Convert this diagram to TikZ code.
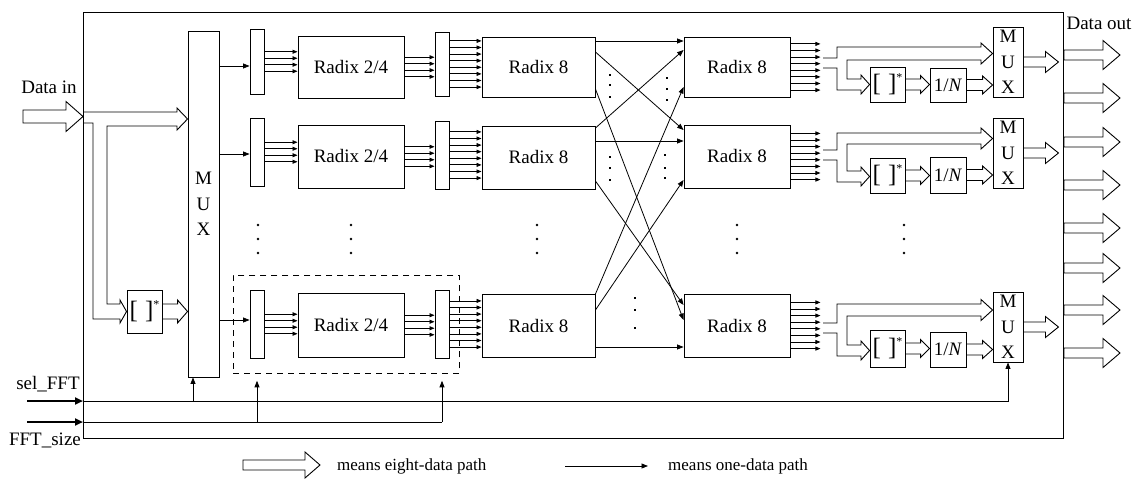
\documentclass[tikz,border=0pt]{standalone}
\usepackage{fontspec}
\setmainfont{Liberation Serif}
\usetikzlibrary{arrows.meta,calc}

\newcommand\lblfont{\fontsize{19}{22}\selectfont}
\newcommand\muxfont{\fontsize{19}{25.5}\selectfont}
\newcommand\conjlabel{{\fontsize{25}{25}\selectfont[\hspace{7pt}]}\raisebox{10pt}{\fontsize{12}{12}\selectfont *}}

\tikzset{
  ln/.style={line width=0.8pt},
  box/.style={draw, line width=0.9pt, fill=white, inner sep=0pt, font=\lblfont},
  one/.style={line width=0.8pt, -{Triangle[length=6.5pt,width=5pt]}},
  bus/.style={line width=0.8pt, -{Triangle[length=5pt,width=4pt]}},
  fatline/.style={line width=0.9pt, line join=miter},
  ctl/.style={line width=2.2pt, -{Triangle[length=8pt,width=7pt]}},
  txt/.style={font=\lblfont, inner sep=0pt},
  dashbox/.style={draw, line width=0.8pt, dash pattern=on 6pt off 5pt, inner sep=0pt},
}

% block given by its corners (x1,y1) (x2,y2)
\newcommand\blk[7][]{\node[box, minimum width={#5-#3}, minimum height={#6-#4}, #1]
  (#2) at ({(#3+#5)/2},{(#4+#6)/2}) {#7};}

% hollow (eight-data) arrow: shaft half width, head half width, head length, start, tip
\newcommand\fat[5]{%
  \draw[fatline] let \p1=#4, \p2=#5 in
    (\x1,\y2+#1pt) -- (\x2-#3pt,\y2+#1pt) -- (\x2-#3pt,\y2+#2pt) -- (\x2,\y2)
    -- (\x2-#3pt,\y2-#2pt) -- (\x2-#3pt,\y2-#1pt) -- (\x1,\y2-#1pt) -- cycle;}

\begin{document}
\begin{tikzpicture}[x=1pt,y=-1pt]
\useasboundingbox (0,0) rectangle (1143,481);

% outer frame
\node[draw, line width=1pt, minimum width=980, minimum height=426, inner sep=0pt,
      anchor=north west] (frame) at (83,12) {};

% input multiplexer and conjugation block
\blk[align=center, font=\muxfont]{mux}{188}{31}{219}{377}{M\\U\\X}
\blk{cjL}{127}{290}{162}{333}{\conjlabel}

% pipeline rows: registers, radix 2/4, registers, radix 8 (two columns)
\foreach \r/\ya/\yb/\yc/\yd/\ye/\yf/\yg/\yh/\yi/\yj in
  {a/29/94/36/98/32/96/37/97/37/97, b/118/186/125/188/121/189/126/189/125/188,
   c/290/358/293/357/290/358/294/357/294/357}{
  \blk{ga\r}{250}{\ya}{264}{\yb}{}
  \blk{xx\r}{298}{\yc}{404}{\yd}{Radix 2/4}
  \blk{gb\r}{435}{\ye}{449}{\yf}{}
  \blk{eL\r}{482}{\yg}{595}{\yh}{Radix 8}
  \blk{eR\r}{684}{\yi}{790}{\yj}{Radix 8}
}

% output stage: conjugation, scaling, multiplexer
\foreach \r/\ya/\yb/\yc/\yd/\ye/\yf in
  {a/67/102/68/102/27/97, b/158/193/157/193/118/188, c/330/367/332/367/292/362}{
  \blk{cj\r}{870}{\ya}{905}{\yb}{\conjlabel}
  \blk{nn\r}{930}{\yc}{966}{\yd}{1/\textit{N}}
  \blk[align=center, font=\muxfont]{mx\r}{993}{\ye}{1023}{\yf}{M\\U\\X}
}

% group around the last radix 2/4 stage
\node[dashbox, minimum width=226, minimum height=98, anchor=north west] (dash) at (233,275) {};

% one-data paths from the input multiplexer
\foreach \r/\y in {a/66, b/154, c/320}{
  \draw[one] (mux.east |- 0,\y) -- (ga\r.west |- 0,\y);
}

% four-line and eight-line buses
\foreach \r in {a,b,c}{
  \foreach \d in {-9.75,-3.25,3.25,9.75}{
    \path (ga\r.east) ++(0,\d) coordinate (t);
    \draw[bus] (t) -- (t -| xx\r.west);
    \path (xx\r.east) ++(0,\d) coordinate (t);
    \draw[bus] (t) -- (t -| gb\r.west);
  }
  \foreach \d in {-23.1,-16.5,-9.9,-3.3,3.3,9.9,16.5,23.1}{
    \path (gb\r.east) ++(0,\d) coordinate (t);
    \draw[bus] (t) -- (t -| eL\r.west);
    \path (eR\r.east) ++(0,\d) coordinate (t);
    \draw[bus] (t) -- ++(30,0);
  }
}

% exchange between the radix 8 columns
\draw[one] (eLa.east |- 0,41)  -- (eRa.west |- 0,41);
\draw[one] (eLa.east |- 0,52)  -- (eRb.west |- 0,130);
\draw[one] (eLa.east |- 0,89)  -- (eRc.west |- 0,320);
\draw[one] (eLb.east |- 0,128) -- (eRa.west |- 0,50);
\draw[one] (eLb.east |- 0,141) -- (eRb.west |- 0,141);
\draw[one] (eLb.east |- 0,181) -- (eRc.west |- 0,305);
\draw[one] (eLc.east |- 0,294) -- (eRa.west |- 0,87);
\draw[one] (eLc.east |- 0,310) -- (eRb.west |- 0,180);
\draw[one] (eLc.east |- 0,347) -- (eRc.west |- 0,347);

% small marks between the exchange lines
\foreach \x/\y in {610/75,610/85,610/97,667/78,667/89,667/100,
                   610/157,610/168,610/180,665/155,665/168,665/178,
                   635/298,635/310,635/328}{
  \fill (\x-1.4,\y-0.7) rectangle (\x+1.4,\y+0.7);
}
% vertical ellipses between rows
\foreach \x in {258,351,537,737,904}{
  \foreach \y in {225,239,253}{
    \fill (\x,\y) circle (1.3);
  }
}

% data input
\node[txt] (lin) at (49,87) {Data in};
\coordinate (din) at (23,116.5);
\fat{6.5}{15}{17}{(din)}{(frame.west |- 0,116.5)}
\draw[fatline] (frame.west |- 0,112) -- (177,112) -- (177,108) -- (mux.west |- 0,119)
  -- (177,130) -- (177,126) -- (107,126) -- (107,304) -- (120,304) -- (120,300)
  -- (cjL.west) -- (120,323) -- (120,319) -- (93,319) -- (93,123) -- (frame.west |- 0,123);
\fat{7.5}{11.5}{10}{(cjL.east)}{(mux.west |- cjL.east)}

% output split paths
\draw[fatline] (823,58) -- (837,58) -- (837,47) -- (981,47) -- (981,43) -- (mxa.west |- 0,53.5)
  -- (981,64) -- (981,60) -- (847,60) -- (847,79) -- (861,79) -- (861,75) -- (cja.west |- 0,84.5)
  -- (861,94) -- (861,90) -- (837,90) -- (837,68) -- (823,68);
\draw[fatline] (823,150) -- (837,150) -- (837,133) -- (981,133) -- (981,128) -- (mxb.west |- 0,138.5)
  -- (981,149) -- (981,144) -- (847,144) -- (847,171) -- (861,171) -- (861,167) -- (cjb.west |- 0,176.5)
  -- (861,186) -- (861,182) -- (837,182) -- (837,160) -- (823,160);
\draw[fatline] (823,323) -- (837,323) -- (837,304) -- (981,304) -- (981,299.5) -- (mxc.west |- 0,310)
  -- (981,320.5) -- (981,316) -- (847,316) -- (847,345) -- (861,345) -- (861,341) -- (cjc.west |- 0,350.5)
  -- (861,360) -- (861,356) -- (837,356) -- (837,333) -- (823,333);

\foreach \r in {a,b,c}{
  \fat{5.5}{9}{9}{(cj\r.east)}{(nn\r.west |- cj\r.east)}
  \fat{5.5}{9}{10}{(nn\r.east)}{(mx\r.west |- nn\r.east)}
  \path (mx\r.east) ++(35,0) coordinate (o\r);
  \fat{5}{10.5}{13}{(mx\r.east)}{(o\r)}
}

% data outputs
\node[txt] (lout) at (1099,23) {Data out};
\foreach \y in {55,98,142,185,228,268,310,353}{
  \coordinate (dout) at (1120,\y);
  \fat{5}{14.5}{17}{(frame.east |- dout)}{(dout)}
}

% control inputs
\node[txt] (lsel) at (48,384) {sel\_FFT};
\node[txt] (lsize) at (45,440) {FFT\_size};
\coordinate (sIn) at (27,401);
\coordinate (fIn) at (27,422);
\draw[ctl] (sIn) -- (frame.west |- sIn);
\draw[ctl] (fIn) -- (frame.west |- fIn);
\draw[one] (frame.west |- sIn) -| (mxc.south);
\draw[one] (193,0 |- sIn) -- (193,0 |- mux.south);
\coordinate (fEnd) at (gbc.south |- fIn);
\draw[ln] (frame.west |- fIn) -- (fEnd);
\draw[one] (gac.south |- fIn) -- ($(gac.south |- dash.south)+(0,7)$);
\draw[one] (fEnd) -- ($(gbc.south |- dash.south)+(0,7)$);

% legend
\coordinate (lg1) at (243,465);
\coordinate (lg2) at (320,465);
\fat{5}{13}{15}{(lg1)}{(lg2)}
\node[anchor=west, inner sep=0pt, font=\fontsize{17}{20}\selectfont] (lt1) at (337,466) {means eight-data path};
\coordinate (lg3) at (565,466);
\coordinate (lg4) at (648,466);
\draw[one] (lg3) -- (lg4);
\node[anchor=west, inner sep=0pt, font=\fontsize{17}{20}\selectfont] (lt2) at (668,466) {means one-data path};
\end{tikzpicture}
\end{document}
